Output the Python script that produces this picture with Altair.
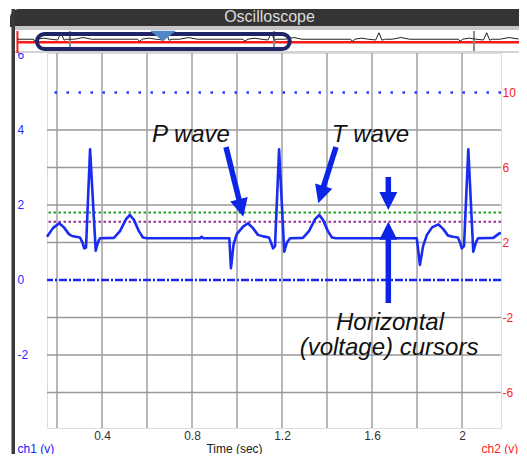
import altair as alt
import pandas as pd

# ---------------- data ----------------
ecg_t = [0.1556, 0.182, 0.210, 0.231, 0.253, 0.267, 0.302, 0.313, 0.321, 0.329,
         0.347, 0.372, 0.382, 0.391, 0.453, 0.480, 0.507, 0.524, 0.542, 0.564,
         0.582, 0.600, 0.836, 0.843, 0.851, 0.966, 0.973, 0.985, 0.999, 1.027,
         1.049, 1.071, 1.093, 1.116, 1.142, 1.151, 1.160, 1.169, 1.187, 1.210,
         1.222, 1.236, 1.293, 1.320, 1.347, 1.366, 1.382, 1.404, 1.422, 1.440,
         1.799, 1.813, 1.827, 1.844, 1.867, 1.895, 1.916, 1.938, 1.960, 1.982,
         1.991, 1.999, 2.009, 2.028, 2.050, 2.062, 2.071, 2.139, 2.166, 2.173]
ecg_v = [1.15, 1.38, 1.51, 1.40, 1.22, 1.17, 1.13, 1.00, 0.84, 0.86,
         3.48, 0.78, 1.00, 1.11, 1.12, 1.30, 1.62, 1.73, 1.60, 1.30,
         1.13, 1.11, 1.11, 1.15, 1.11, 1.11, 0.31, 0.95, 1.22, 1.42,
         1.51, 1.38, 1.20, 1.16, 1.13, 1.00, 0.84, 0.90, 3.48, 0.75,
         1.00, 1.11, 1.12, 1.30, 1.62, 1.73, 1.60, 1.30, 1.13, 1.11,
         1.11, 0.40, 0.90, 1.20, 1.40, 1.48, 1.36, 1.18, 1.15, 1.13,
         1.00, 0.84, 0.90, 3.48, 0.75, 1.00, 1.11, 1.12, 1.24, 1.25]

# overview strip (whole record, 0 .. 4 s)
ov_t = [0.0, 0.13, 0.134, 0.157, 0.21, 0.26, 0.321, 0.347, 0.372, 0.391, 0.455, 0.524, 0.592,
        0.96, 0.973, 0.997, 1.049, 1.10, 1.16, 1.187, 1.21, 1.236, 1.295, 1.366, 1.435,
        1.80, 1.813, 1.84, 1.895, 1.94, 1.999, 2.028, 2.05, 2.071, 2.135, 2.205, 2.27,
        2.66, 2.672, 2.695, 2.748, 2.795, 2.859, 2.885, 2.909, 2.93, 2.99, 3.062, 3.13,
        3.52, 3.532, 3.555, 3.608, 3.655, 3.719, 3.745, 3.769, 3.79, 3.85, 3.922, 4.0]
ov_v = [1.11, 1.11, 0.35, 1.15, 1.51, 1.15, 0.84, 3.48, 0.78, 1.11, 1.11, 1.73, 1.11,
        1.11, 0.31, 1.15, 1.51, 1.15, 0.84, 3.48, 0.75, 1.11, 1.11, 1.73, 1.11,
        1.11, 0.40, 1.15, 1.48, 1.15, 0.84, 3.48, 0.75, 1.11, 1.11, 1.73, 1.11,
        1.11, 0.35, 1.15, 1.50, 1.15, 0.84, 3.48, 0.76, 1.11, 1.11, 1.73, 1.11,
        1.11, 0.35, 1.15, 1.50, 1.15, 0.84, 3.48, 0.76, 1.11, 1.11, 1.73, 1.20]

x_ticks = [0.4, 0.8, 1.2, 1.6, 2]
x_grid = [0.2, 0.4, 0.6, 0.8, 1.0, 1.2, 1.4, 1.6, 1.8, 2.0]
y_grid = [4, 3, 2, 1, -1, -2, -3]
ch1_ticks = [6, 4, 2, 0, -2]
ch2_ticks = [10, 6, 2, -2, -6]

green_cursor = [1.8]
purple_cursor = [1.55]
dotted_level = [5.0]
dashdot_level = [0.0]

view_window = [0.156, 2.173]
ov_markers = [0.419, 2.048, 3.644]
ov_trigger = [1.162]
ov_origin = [0.0]

ann_text = ["P wave", "T wave", "Horizontal", "(voltage) cursors"]
ann_t = [0.7956, 1.5934, 1.680, 1.6756]
ann_v = [3.677, 3.677, -1.337, -2.003]

shaft_t1 = [0.9511, 1.4400, 1.6725, 1.6725]
shaft_v1 = [3.543, 3.543, 2.743, -0.617]
shaft_t2 = [1.0129, 1.3800, 1.6725, 1.6725]
shaft_v2 = [2.047, 2.399, 2.183, 1.197]
head_t = [1.0183, 1.3734, 1.6725, 1.6725]
head_v = [1.917, 2.271, 2.103, 1.311]
head_angle = [346.1, 17.5, 0, 180]

title_text = ["Oscilloscope"]

# ---------------- tables ----------------
ecg = pd.DataFrame({"t": ecg_t, "v": ecg_v})
ov = pd.DataFrame({"t": ov_t, "v": ov_v})
xg = pd.DataFrame({"t": x_grid})
yg = pd.DataFrame({"v": y_grid})
c2 = pd.DataFrame({"c2": ch2_ticks})
ann = pd.DataFrame({"t": ann_t, "v": ann_v, "label": ann_text})
shafts = pd.DataFrame({"t1": shaft_t1, "v1": shaft_v1, "t2": shaft_t2, "v2": shaft_v2})
heads = pd.DataFrame({"t": head_t, "v": head_v, "a": head_angle})
win = pd.DataFrame({"w0": [view_window[0]], "w1": [view_window[1]]})
one = pd.DataFrame({"k": [0]})
ttl = pd.DataFrame({"label": title_text})

FONT = "Liberation Sans"


def XS():
    return alt.Scale(domain=[0.1556, 2.1733], nice=False, zero=False)


def Y1S():
    return alt.Scale(domain=[-3.95, 6.05], nice=False, zero=False)


Y2 = alt.Scale(domain=[-7.9, 12.1], nice=False, zero=False)


def OXS():
    return alt.Scale(domain=[0, 4.0], range=[-29.55, 471.65], nice=False, zero=False)


OY = alt.Scale(domain=[0, 4], range=[-10.7, -21.7], nice=False, zero=False)

x_axis = alt.Axis(orient="bottom", values=x_ticks, labelExpr="'' + datum.value",
                  grid=False, ticks=False, tickSize=0, domain=False, labelPadding=2,
                  labelColor="#333333", labelFontSize=12, labelFont=FONT,
                  title="Time (sec)", titleX=187, titleY=24,
                  titleBaseline="alphabetic", titleFontWeight="normal",
                  titleColor="#222222", titleFontSize=12, titleFont=FONT)
y1_axis = alt.Axis(orient="left", values=ch1_ticks, labelExpr="'' + datum.value",
                   labelAlign="left", labelPadding=30, ticks=False, tickSize=0,
                   domain=False, grid=False, labelColor="#2a2aff", labelFontSize=12,
                   labelFont=FONT, title="ch1 (v)", titleAngle=0, titleX=-30,
                   titleY=399, titleAlign="left", titleBaseline="alphabetic",
                   titleColor="#2020ff", titleFontWeight="normal", titleFontSize=12,
                   titleFont=FONT)
y2_axis = alt.Axis(orient="right", values=ch2_ticks, labelExpr="'' + datum.value",
                   labelPadding=1, ticks=False, tickSize=0, domain=False, grid=False,
                   labelColor="#ff2020", labelFontSize=12, labelFont=FONT,
                   title="ch2 (v)", titleAngle=0, titleX=-20, titleY=399,
                   titleAlign="left", titleBaseline="alphabetic",
                   titleColor="#ff2020", titleFontWeight="normal", titleFontSize=12,
                   titleFont=FONT)

# ---------------- window chrome ----------------
title_bar = alt.Chart(one).mark_rect(color="#343434", cornerRadiusTopLeft=10).encode(
    x=alt.value(-37), x2=alt.value(472), y=alt.value(-44), y2=alt.value(-26))
band = alt.Chart(one).mark_rect(color="#c6c6c6").encode(
    x=alt.value(-32), x2=alt.value(472), y=alt.value(-27), y2=alt.value(-23))
left_border = alt.Chart(one).mark_rect(color="#3a3a3a").encode(
    x=alt.value(-35.5), x2=alt.value(-32), y=alt.value(-44), y2=alt.value(402))
title_txt = alt.Chart(ttl).mark_text(font=FONT, fontSize=16, color="#dcdcdc",
                                     align="center", baseline="alphabetic").encode(
    x=alt.value(222.5), y=alt.value(-31), text="label:N")

# ---------------- main plot ----------------
vgrid = alt.Chart(xg).mark_rule(color="#a0a0a0", strokeWidth=1.5).encode(
    x=alt.X("t:Q", scale=XS(), axis=x_axis))
hgrid = alt.Chart(yg).mark_rule(color="#999999", strokeWidth=1.5).encode(
    y=alt.Y("v:Q", scale=Y1S(), axis=y1_axis))
ch2 = alt.Chart(c2).mark_point(opacity=0).encode(
    y=alt.Y("c2:Q", scale=Y2, axis=y2_axis))


def level_rule(vals, color, dash, width):
    return alt.Chart(pd.DataFrame({"v": vals})).mark_rule(
        color=color, strokeDash=dash, strokeWidth=width).encode(
        y=alt.Y("v:Q", scale=Y1S(), axis=None))


dotted = level_rule(dotted_level, "#2a3aff", [2.5, 9.5], 2.5)
dashdot = level_rule(dashdot_level, "#1a2af0", [8, 2, 2, 2], 2.5)
green = level_rule(green_cursor, "#1f9e1f", [2.5, 2.5], 2)
purple = level_rule(purple_cursor, "#9b2a9b", [2.5, 2.5], 2)

trace = alt.Chart(ecg).mark_line(color="#1a2bf2", strokeWidth=2.6,
                                 strokeJoin="round").encode(
    x=alt.X("t:Q", scale=XS(), axis=None),
    y=alt.Y("v:Q", scale=Y1S(), axis=None),
    order="t:Q")

arrow_col = "#0b24e6"
shaft_layer = alt.Chart(shafts).mark_rule(color=arrow_col, strokeWidth=5.5,
                                          strokeCap="butt").encode(
    x=alt.X("t1:Q", scale=XS(), axis=None), x2="t2:Q",
    y=alt.Y("v1:Q", scale=Y1S(), axis=None), y2="v2:Q")
head_layer = alt.Chart(heads).mark_point(shape="M-1,-1L1,-1L0,1Z", filled=True,
                                         size=324, color=arrow_col, opacity=1).encode(
    x=alt.X("t:Q", scale=XS(), axis=None),
    y=alt.Y("v:Q", scale=Y1S(), axis=None),
    angle=alt.Angle("a:Q", scale=None))
ann_layer = alt.Chart(ann).mark_text(font=FONT, fontStyle="italic", fontSize=24,
                                     align="center", baseline="alphabetic",
                                     color="#111111").encode(
    x=alt.X("t:Q", scale=XS(), axis=None),
    y=alt.Y("v:Q", scale=Y1S(), axis=None),
    text="label:N")

# ---------------- overview strip ----------------
ov_bg = alt.Chart(one).mark_rect(color="white").encode(
    x=alt.value(-32), x2=alt.value(472), y=alt.value(-23), y2=alt.value(-1))
ov_line = alt.Chart(one).mark_rule(color="#c4c4c4", strokeWidth=1.5).encode(
    x=alt.value(-32), x2=alt.value(472), y=alt.value(-1))
ov_red_h = alt.Chart(one).mark_rule(color="#ff1a1a", strokeWidth=2.5).encode(
    x=alt.value(-30), x2=alt.value(472), y=alt.value(-10.7))
ov_marks = alt.Chart(pd.DataFrame({"t": ov_markers})).mark_rule(
    color="#8a8a8a", strokeWidth=2).encode(
    x=alt.X("t:Q", scale=OXS(), axis=None), y=alt.value(-22), y2=alt.value(-2))
ov_red_v = alt.Chart(pd.DataFrame({"t": ov_origin})).mark_rule(
    color="#ff1a1a", strokeWidth=2).encode(
    x=alt.X("t:Q", scale=OXS(), axis=None), y=alt.value(-22), y2=alt.value(0))
ov_trace = alt.Chart(ov).mark_line(color="#222222", strokeWidth=1).encode(
    x=alt.X("t:Q", scale=OXS(), axis=None),
    y=alt.Y("v:Q", scale=OY, axis=None), order="t:Q")
ov_pill = alt.Chart(win).mark_rect(fillOpacity=0, stroke="#1e2466", strokeWidth=4,
                                   cornerRadius=8).encode(
    x=alt.X("w0:Q", scale=OXS(), axis=None), x2="w1:Q",
    y=alt.value(-19), y2=alt.value(-4))
ov_tri = alt.Chart(pd.DataFrame({"t": ov_trigger})).mark_point(
    shape="M-1,-0.4L1,-0.4L0,0.4Z", filled=True, size=676, color="#4f86c6",
    opacity=1).encode(x=alt.X("t:Q", scale=OXS(), axis=None), y=alt.value(-17))

chart = alt.layer(
    title_bar, band, left_border, title_txt,
    vgrid, hgrid, ch2, dotted, dashdot, green, purple, trace,
    shaft_layer, head_layer, ann_layer,
    ov_bg, ov_line, ov_red_h, ov_marks, ov_red_v, ov_trace, ov_pill, ov_tri,
).resolve_scale(x="independent", y="independent").properties(
    width=454, height=375,
    autosize=alt.AutoSizeParams(type="none"),
    padding={"left": 39, "top": 45, "right": 18, "bottom": 26},
).configure_view(stroke=None).configure(background="white")

chart.save("out.html", embed_options={"renderer": "svg", "actions": False})
